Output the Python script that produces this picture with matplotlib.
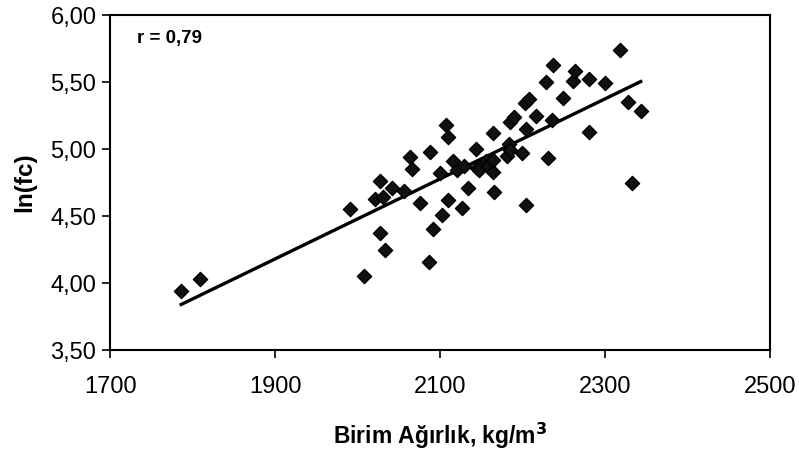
import numpy as np
import matplotlib
matplotlib.use('Agg')
import matplotlib.pyplot as plt

plt.rcParams['font.family'] = ['Liberation Sans', 'DejaVu Sans']

# unit weight (kg/m3) and ln(fc)
birim_agirlik = [1786, 1809, 1990, 2007, 2021, 2027, 2030, 2027, 2033, 2041,
                 2056, 2063, 2066, 2075, 2086, 2087, 2091, 2100, 2102, 2107,
                 2109, 2110, 2115, 2120, 2126, 2129, 2134, 2143, 2145, 2147,
                 2156, 2158, 2164, 2164, 2164, 2165, 2181, 2183, 2184, 2185,
                 2189, 2199, 2203, 2204, 2204, 2207, 2216, 2228, 2231, 2236,
                 2237, 2249, 2261, 2263, 2280, 2280, 2300, 2318, 2327, 2332,
                 2343]
ln_fc = [3.94, 4.03, 4.55, 4.05, 4.63, 4.76, 4.64, 4.37, 4.25, 4.71,
         4.69, 4.94, 4.85, 4.60, 4.16, 4.98, 4.40, 4.82, 4.51, 5.18,
         5.09, 4.62, 4.91, 4.84, 4.56, 4.87, 4.71, 5.00, 4.86, 4.84,
         4.91, 4.87, 4.83, 4.92, 5.12, 4.68, 4.95, 5.04, 4.99, 5.20,
         5.24, 4.97, 5.34, 5.15, 4.58, 5.37, 5.25, 5.50, 4.93, 5.22,
         5.63, 5.38, 5.51, 5.58, 5.52, 5.13, 5.49, 5.74, 5.35, 4.75,
         5.28]

x_ticks = [1700, 1900, 2100, 2300, 2500]
y_ticks = [3.5, 4.0, 4.5, 5.0, 5.5, 6.0]
y_labels = ['3,50', '4,00', '4,50', '5,00', '5,50', '6,00']

x = np.array(birim_agirlik)
y = np.array(ln_fc)
coef = np.polyfit(x, y, 1)
xs = np.array([x.min(), x.max()])

fig = plt.figure(figsize=(7.99, 4.62), dpi=100)
ax = fig.add_axes([0.138, 0.2424, 0.826, 0.7251])

ax.scatter(x, y, marker='D', s=52, facecolor='#111111', edgecolor='black',
           linewidths=1.0, zorder=3)
ax.plot(xs, np.polyval(coef, xs), color='black', lw=2.4, zorder=2)

ax.set_xlim(1700, 2500)
ax.set_ylim(3.5, 6.0)
ax.set_xticks(x_ticks)
ax.set_xticklabels([str(t) for t in x_ticks])
ax.set_yticks(y_ticks)
ax.set_yticklabels(y_labels)
ax.tick_params(axis='both', direction='out', length=6, width=1.2, labelsize=17)
ax.tick_params(axis='x', pad=13)
ax.tick_params(axis='y', pad=4)

for sp in ax.spines.values():
    sp.set_linewidth(1.5)

ax.text(0.04, 0.955, 'r = 0,79', transform=ax.transAxes, fontsize=13.5,
        fontweight='bold', va='top', ha='left')

ax.set_xlabel('Birim Ağırlık, kg/m$^\\mathbf{3}$', fontsize=16.5,
              fontweight='bold', labelpad=16)
ax.set_ylabel('ln(fc)', fontsize=17.5, fontweight='bold', labelpad=10)

fig.savefig('out.png', dpi=100)
